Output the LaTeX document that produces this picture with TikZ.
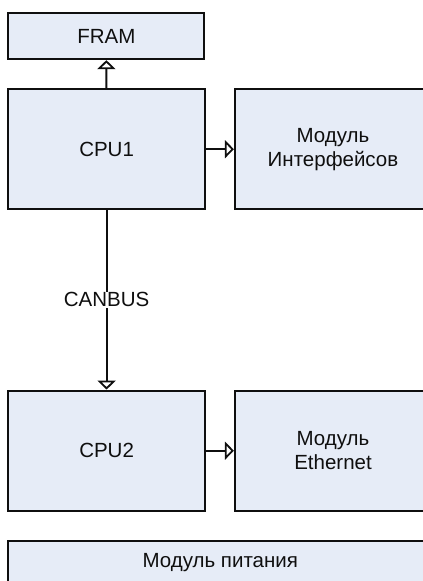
\documentclass[tikz,border=0pt]{standalone}
\usepackage{fontspec}
\setmainfont{Liberation Sans}
\usetikzlibrary{arrows.meta}
\definecolor{boxfill}{RGB}{230,236,247}
\definecolor{ink}{RGB}{15,15,15}
\begin{document}
\begin{tikzpicture}[x=1pt,y=-1pt,
  box/.style={draw=ink, fill=boxfill, line width=2.2pt, rectangle, align=center,
    inner sep=0pt, font=\fontsize{20.5}{24}\selectfont, text=ink},
  conn/.style={draw=ink, line width=2pt,
    -{Triangle[open, fill=white, length=9pt, width=18pt, line width=1.8pt]}},
  lbl/.style={fill=white, inner sep=1pt, font=\fontsize{20.5}{24}\selectfont, text=ink}]
\useasboundingbox (0,0) rectangle (423,581);
\node[box, minimum width=196pt, minimum height=45.7pt] (fram) at (106.3,36.2) {FRAM};
\node[box, minimum width=196.7pt, minimum height=119.7pt] (cpu1) at (106.6,149.2) {CPU1};
\node[box, minimum width=196pt, minimum height=119.7pt] (ifc) at (333,149.2) {Модуль\\Интерфейсов};
\node[box, minimum width=196.7pt, minimum height=120pt] (cpu2) at (106.6,450.7) {CPU2};
\node[box, minimum width=196pt, minimum height=120pt] (eth) at (333,450.7) {Модуль\\Ethernet};
\node[box, minimum width=424pt, minimum height=44pt] (pwr) at (220.3,563) {Модуль питания};
\draw[conn] (cpu1) -- (fram);
\draw[conn] (cpu1) -- (ifc);
\draw[conn] (cpu2) -- (eth);
\draw[conn] (cpu1) -- node[lbl] (can) {CANBUS} (cpu2);
\end{tikzpicture}
\end{document}
